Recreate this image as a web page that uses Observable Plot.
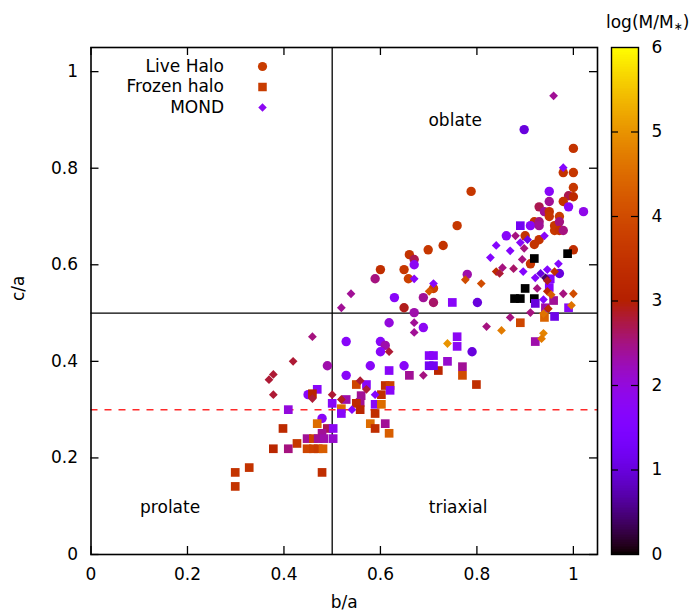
<!DOCTYPE html>
<html>
<head>
<meta charset="utf-8">
<script src="https://cdn.jsdelivr.net/npm/d3@7"></script>
<script src="https://cdn.jsdelivr.net/npm/@observablehq/plot@0.6"></script>
<style>
  html, body { margin: 0; padding: 0; background: #fff; }
  #wrap { position: relative; width: 693px; height: 613px; font-family: "DejaVu Sans", sans-serif; }
  #wrap > * { position: absolute; }
  #cbtitle { left: 606px; top: 12px; font-size: 17px; color: #000; white-space: nowrap; }
  #cbtitle sub { font-size: 11px; vertical-align: -2px; }
</style>
</head>
<body>
<div id="wrap"><div id="cbtitle">log(M/M<sub>∗</sub>)</div></div>
<script>
// ---- data: [b/a, c/a, log(M/M*)] ----
const liveHalo = [
  [0.898,0.880,1.0],[1.000,0.841,3.5],[0.979,0.791,3.5],[1.000,0.791,3.6],[1.000,0.760,3.6],
  [0.788,0.752,3.6],[0.950,0.752,1.7],[0.990,0.743,2.7],[1.000,0.741,3.3],[0.950,0.731,2.4],
  [0.979,0.731,3.5],[0.990,0.720,1.7],[1.021,0.710,1.9],[0.929,0.720,2.7],[0.940,0.710,2.4],
  [0.950,0.710,3.5],[0.950,0.700,3.6],[0.971,0.700,3.7],[0.919,0.689,3.5],[0.929,0.689,2.5],
  [0.911,0.681,1.7],[0.929,0.681,2.4],[0.961,0.681,3.6],[0.971,0.689,2.5],[0.961,0.671,3.6],
  [0.971,0.671,3.5],[0.979,0.671,2.5],[0.861,0.660,1.7],[0.900,0.660,3.5],[0.929,0.652,3.5],
  [0.919,0.642,3.5],[1.000,0.631,3.4],[0.759,0.681,3.6],[0.730,0.640,3.5],[0.699,0.631,3.6],
  [0.660,0.621,3.5],[0.670,0.611,2.7],[0.670,0.600,1.8],[0.600,0.590,3.4],[0.649,0.590,3.6],
  [0.589,0.571,2.5],[0.658,0.571,3.8],[0.710,0.551,3.8],[0.780,0.580,2.3],[0.629,0.532,1.7],
  [0.689,0.532,2.4],[0.710,0.522,2.6],[0.801,0.522,1.0],[0.649,0.511,2.9],[0.670,0.501,2.3],
  [0.911,0.602,3.6],[0.971,0.582,1.0],[0.618,0.480,2.0],[0.689,0.470,1.8],[0.529,0.441,1.7],
  [0.600,0.441,1.7],[0.610,0.433,2.3],[0.600,0.420,1.7],[0.490,0.391,2.3],[0.579,0.391,1.7],
  [0.649,0.391,1.7],[0.529,0.371,1.7],[0.790,0.420,1.0],[0.450,0.331,1.7],[0.479,0.282,1.7]
];
const frozenHalo = [
  [0.890,0.681,1.2],[0.919,0.613,0.0],[0.988,0.623,0.0],[0.900,0.551,0.0],[0.878,0.530,0.0],
  [0.890,0.530,0.0],[0.919,0.530,0.0],[0.952,0.571,1.6],[0.950,0.553,1.6],[0.959,0.526,2.4],
  [0.921,0.520,1.0],[0.942,0.511,2.3],[0.990,0.511,1.7],[0.961,0.493,1.1],[0.940,0.491,4.4],
  [0.890,0.480,3.9],[0.749,0.522,1.7],[0.759,0.451,1.8],[0.759,0.431,1.8],[0.739,0.400,2.1],
  [0.770,0.389,2.4],[0.770,0.371,4.0],[0.799,0.352,3.4],[0.720,0.381,3.2],[0.701,0.412,1.7],
  [0.710,0.412,1.7],[0.701,0.391,1.2],[0.710,0.391,1.2],[0.660,0.371,2.4],[0.618,0.381,1.7],
  [0.469,0.342,1.7],[0.459,0.333,3.1],[0.529,0.321,2.3],[0.550,0.352,3.9],[0.571,0.352,1.7],
  [0.560,0.329,2.4],[0.558,0.315,2.4],[0.550,0.313,3.3],[0.602,0.331,3.4],[0.610,0.350,3.4],
  [0.620,0.350,3.8],[0.620,0.340,1.7],[0.500,0.313,1.7],[0.519,0.302,4.5],[0.519,0.292,1.7],
  [0.558,0.300,3.2],[0.589,0.311,1.7],[0.602,0.311,4.5],[0.589,0.292,3.4],[0.409,0.300,2.0],
  [0.469,0.271,4.5],[0.398,0.261,3.3],[0.579,0.271,4.5],[0.589,0.261,3.4],[0.610,0.271,2.4],
  [0.618,0.251,4.3],[0.490,0.261,2.7],[0.502,0.261,1.8],[0.479,0.251,2.4],[0.448,0.240,2.4],
  [0.461,0.240,3.8],[0.471,0.240,2.4],[0.483,0.240,2.3],[0.502,0.240,2.1],[0.427,0.230,3.6],
  [0.378,0.219,3.2],[0.409,0.219,2.5],[0.448,0.219,3.9],[0.461,0.219,3.8],[0.471,0.219,3.7],
  [0.481,0.219,4.3],[0.328,0.180,3.5],[0.299,0.170,3.5],[0.479,0.170,3.4],[0.299,0.141,3.5],
  [0.921,0.441,2.3]
];
const mond = [
  [0.959,0.950,2.4],[0.979,0.801,1.6],[0.880,0.660,2.5],[0.905,0.652,1.1],[0.940,0.660,1.7],
  [0.890,0.646,1.7],[0.840,0.640,1.6],[0.869,0.629,1.6],[0.898,0.634,2.5],[0.828,0.615,1.6],
  [0.894,0.611,2.5],[0.853,0.594,2.5],[0.840,0.586,3.3],[0.847,0.582,2.8],[0.876,0.592,2.6],
  [0.896,0.586,1.6],[0.969,0.602,1.6],[0.946,0.590,1.6],[0.961,0.586,3.4],[0.932,0.582,1.0],
  [0.921,0.573,1.6],[0.942,0.573,0.4],[0.946,0.567,2.9],[0.925,0.551,2.5],[0.946,0.545,3.3],
  [0.954,0.538,4.3],[0.979,0.540,2.5],[1.000,0.540,4.0],[0.938,0.528,1.6],[0.948,0.509,3.3],
  [0.996,0.516,4.6],[0.911,0.501,2.5],[0.938,0.499,4.6],[0.869,0.491,2.5],[0.820,0.472,2.5],
  [0.851,0.464,4.7],[0.938,0.458,4.8],[0.934,0.447,4.7],[0.739,0.437,5.0],[0.670,0.571,1.7],
  [0.710,0.561,1.7],[0.701,0.545,4.2],[0.776,0.569,4.0],[0.809,0.561,4.0],[0.539,0.540,2.4],
  [0.519,0.511,2.4],[0.670,0.480,2.4],[0.670,0.460,2.4],[0.618,0.420,2.8],[0.689,0.371,2.5],
  [0.459,0.451,2.5],[0.419,0.400,2.8],[0.378,0.373,2.8],[0.369,0.362,2.8],[0.378,0.331,2.8],
  [0.459,0.323,2.8],[0.500,0.331,2.8],[0.519,0.321,2.9],[0.558,0.360,2.8],[0.571,0.342,2.8],
  [0.589,0.331,1.6],[0.541,0.300,1.6]
];
const seriesNames = ["Live Halo", "Frozen halo", "MOND"];
const legendValues = [3.7, 3.7, 1.8];
const xTicks = [0, 0.2, 0.4, 0.6, 0.8, 1];
const yTicks = [0, 0.2, 0.4, 0.6, 0.8, 1];
const cbTicks = [0, 1, 2, 3, 4, 5, 6];
const regionNames = ["oblate", "prolate", "triaxial"];
const regionB = [0.755, 0.164, 0.761];
const regionC = [0.898, 0.097, 0.097];
const dividerB = [0.5];
const dividerC = [0.5];
const thresholdC = [0.3];

// ---- gnuplot default palette (rgbformulae 7,5,15) ----
function gnu(t) {
  t = Math.max(0, Math.min(1, t));
  const r = Math.sqrt(t), g = t * t * t, b = Math.max(0, Math.sin(2 * Math.PI * t));
  return `rgb(${Math.round(255*r)},${Math.round(255*g)},${Math.round(255*b)})`;
}
const colorScale = {type: "linear", domain: [0, 6], interpolate: gnu};

const diamond = {
  draw(ctx, size) {
    const h = Math.sqrt(size / 2);
    ctx.moveTo(0, -h); ctx.lineTo(h, 0); ctx.lineTo(0, h); ctx.lineTo(-h, 0); ctx.closePath();
  }
};
const toObj = a => a.map(([b, c, m]) => ({b, c, m}));

const W = 693, H = 613, mL = 90.5, mR = 96, mT = 47, mB = 59;
const fw = W - mL - mR, fh = H - mT - mB, tk = 8;
const fmt = d => String(d);
const FONT = '"DejaVu Sans", sans-serif';

const legendMarks = [];
const legendSyms = ["circle", "square", diamond];
const legendR = [4.6, 4.8, 3.4];
seriesNames.forEach((name, i) => {
  legendMarks.push(Plot.text([name], {frameAnchor: "top-left", dx: 133, dy: 19 + 20.5 * i, textAnchor: "end", lineAnchor: "middle", fill: "black"}));
  legendMarks.push(Plot.dot([legendValues[i]], {frameAnchor: "top-left", dx: 171.5, dy: 19 + 20.5 * i, symbol: legendSyms[i], r: legendR[i], fill: d => d}));
});

const main = Plot.plot({
  width: W, height: H,
  marginLeft: mL, marginRight: mR, marginTop: mT, marginBottom: mB,
  x: {domain: [0, 1.05]},
  y: {domain: [0, 1.05]},
  color: colorScale,
  style: {fontFamily: FONT, fontSize: "17px", background: "transparent", color: "black"},
  marks: [
    Plot.ruleX(dividerB, {stroke: "black", strokeWidth: 1.3}),
    Plot.ruleY(dividerC, {stroke: "black", strokeWidth: 1.3}),
    Plot.ruleY(thresholdC, {stroke: "#ff2a2a", strokeWidth: 1.5, strokeDasharray: "7,7"}),
    Plot.dot(toObj(liveHalo), {x: "b", y: "c", fill: "m", r: 4.7, symbol: "circle"}),
    Plot.dot(toObj(frozenHalo), {x: "b", y: "c", fill: "m", r: 4.9, symbol: "square"}),
    Plot.dot(toObj(mond), {x: "b", y: "c", fill: "m", r: 3.5, symbol: diamond}),
    Plot.text(regionNames, {x: (d, i) => regionB[i], y: (d, i) => regionC[i], text: d => d, fill: "black"}),
    ...legendMarks,
    Plot.ruleX(xTicks, {insetTop: fh - tk, stroke: "black", strokeWidth: 1.3}),
    Plot.ruleX(xTicks, {insetBottom: fh - tk, stroke: "black", strokeWidth: 1.3}),
    Plot.ruleY(yTicks, {insetRight: fw - tk, stroke: "black", strokeWidth: 1.3}),
    Plot.ruleY(yTicks, {insetLeft: fw - tk, stroke: "black", strokeWidth: 1.3}),
    Plot.axisX(xTicks, {tickSize: 0, tickPadding: 13, tickFormat: fmt, label: null}),
    Plot.axisY(yTicks, {tickSize: 0, tickPadding: 13, tickFormat: fmt, label: null}),
    Plot.text(["b/a"], {frameAnchor: "bottom", dy: 48, lineAnchor: "middle", fill: "black"}),
    Plot.text(["c/a"], {frameAnchor: "left", dx: -72, rotate: -90, lineAnchor: "middle", fill: "black"}),
    Plot.frame({stroke: "black", strokeWidth: 1.6})
  ]
});
main.style.left = "0px"; main.style.top = "0px";

const cbSteps = d3.range(0, 6, 0.02);
const cbInner = cbTicks.slice(1, -1);
const cbW = 27;
const cbar = Plot.plot({
  width: 93, height: H,
  marginLeft: 11, marginRight: 93 - 11 - cbW, marginTop: mT, marginBottom: mB,
  y: {domain: [0, 6]},
  color: colorScale,
  style: {fontFamily: FONT, fontSize: "17px", background: "transparent", color: "black"},
  marks: [
    Plot.rect(cbSteps, {y1: d => d, y2: d => Math.min(6, d + 0.04), fill: d => d + 0.01, shapeRendering: "crispEdges"}),
    Plot.ruleY(cbInner, {insetRight: cbW - 7, stroke: "black", strokeWidth: 1.2}),
    Plot.ruleY(cbInner, {insetLeft: cbW - 7, stroke: "black", strokeWidth: 1.2}),
    Plot.axisY(cbTicks, {anchor: "right", tickSize: 0, tickPadding: 13, tickFormat: fmt, label: null}),
    Plot.frame({stroke: "black", strokeWidth: 1.4})
  ]
});
cbar.style.left = "600px"; cbar.style.top = "0px";

const wrap = document.getElementById("wrap");
wrap.appendChild(main);
wrap.appendChild(cbar);
</script>
</body>
</html>
